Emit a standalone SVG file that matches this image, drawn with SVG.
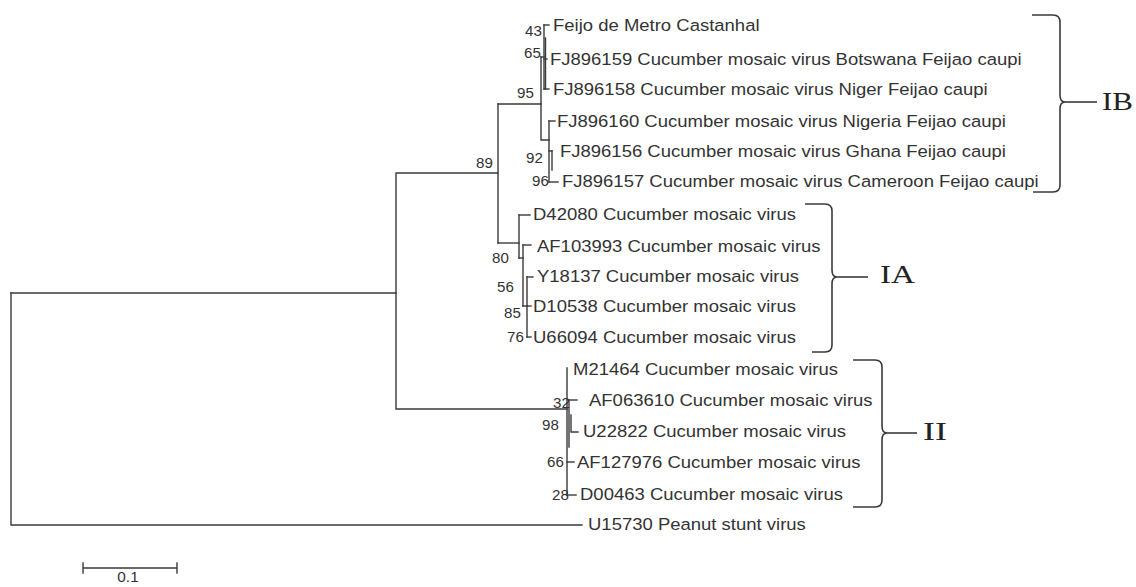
<svg xmlns="http://www.w3.org/2000/svg" width="1136" height="587" viewBox="0 0 1136 587">
<style>
.br{stroke:#3a3a3a;stroke-width:1.4;fill:none;stroke-linecap:square}
.bk{stroke:#3a3a3a;stroke-width:1.6;fill:none}
.leaf{font-family:"Liberation Sans",Arial,sans-serif;font-size:16.5px;fill:#333}
.bs{font-family:"Liberation Sans",Arial,sans-serif;font-size:14px;fill:#333}
.rn{font-family:"Liberation Serif","Times New Roman",serif;font-size:25px;fill:#222}
</style>
<rect width="1136" height="587" fill="#fff"/>
<g id="connectors">
<path class="br" d="M11,293 V525 H582"/>
<path class="br" d="M11,293 H396 V409 H567"/>
<path class="br" d="M396,293 V173 H498"/>
<path class="br" d="M498,104 V243"/>
<path class="br" d="M498,104 H541 V57"/>
<path class="br" d="M541,104 V140 H549"/>
<path class="br" d="M541,57 H544"/>
<path class="br" d="M544,25 V89"/>
<path class="br" d="M545.5,38 V89"/>
<path class="br" d="M544,25 H549"/>
<path class="br" d="M544,59 H547"/>
<path class="br" d="M544,89 H549"/>
<path class="br" d="M549,121 V182"/>
<path class="br" d="M549,121 H555"/>
<path class="br" d="M549,151 H552"/>
<path class="br" d="M552,151 V170"/>
<path class="br" d="M549,182 H558"/>
<path class="br" d="M498,243 H519"/>
<path class="br" d="M519,215 V258"/>
<path class="br" d="M519,215 H530"/>
<path class="br" d="M519,258 H523"/>
<path class="br" d="M523,245 V306"/>
<path class="br" d="M523,245 H531"/>
<path class="br" d="M523,306 H527"/>
<path class="br" d="M527,277 V337"/>
<path class="br" d="M527,277 H533"/>
<path class="br" d="M527,306 H531"/>
<path class="br" d="M527,337 H531"/>
<path class="br" d="M567,368 V495"/>
<path class="br" d="M569,400 V447"/>
<path class="br" d="M569,400 H577"/>
<path class="br" d="M571,415 V432 H578"/>
<path class="br" d="M567,462 H574"/>
<path class="br" d="M567,495 H576"/>
</g>
<g id="bootstrap">
<text class="bs" transform="translate(525,36) scale(1.08,1)">43</text>
<text class="bs" transform="translate(524,58) scale(1.08,1)">65</text>
<text class="bs" transform="translate(517,98) scale(1.08,1)">95</text>
<text class="bs" transform="translate(526,163) scale(1.08,1)">92</text>
<text class="bs" transform="translate(532,186) scale(1.08,1)">96</text>
<text class="bs" transform="translate(476,168) scale(1.08,1)">89</text>
<text class="bs" transform="translate(492,263) scale(1.08,1)">80</text>
<text class="bs" transform="translate(497,292) scale(1.08,1)">56</text>
<text class="bs" transform="translate(504,318) scale(1.08,1)">85</text>
<text class="bs" transform="translate(507,342) scale(1.08,1)">76</text>
<text class="bs" transform="translate(553,408) scale(1.08,1)">32</text>
<text class="bs" transform="translate(542,430) scale(1.08,1)">98</text>
<text class="bs" transform="translate(547,467) scale(1.08,1)">66</text>
<text class="bs" transform="translate(552,500) scale(1.08,1)">28</text>
</g>
<g id="leaf-feijo"><text class="leaf" transform="translate(553,31) scale(1.121,1)">Feijo de Metro Castanhal</text></g>
<g id="leaf-FJ896159"><text class="leaf" transform="translate(550,65) scale(1.121,1)">FJ896159 Cucumber mosaic virus Botswana Feijao caupi</text></g>
<g id="leaf-FJ896158"><text class="leaf" transform="translate(553,95) scale(1.121,1)">FJ896158 Cucumber mosaic virus Niger Feijao caupi</text></g>
<g id="leaf-FJ896160"><text class="leaf" transform="translate(557,127) scale(1.121,1)">FJ896160 Cucumber mosaic virus Nigeria Feijao caupi</text></g>
<g id="leaf-FJ896156"><text class="leaf" transform="translate(560,157) scale(1.121,1)">FJ896156 Cucumber mosaic virus Ghana Feijao caupi</text></g>
<g id="leaf-FJ896157"><text class="leaf" transform="translate(562,187) scale(1.121,1)">FJ896157 Cucumber mosaic virus Cameroon Feijao caupi</text></g>
<g id="leaf-D42080"><text class="leaf" transform="translate(533,220) scale(1.121,1)">D42080 Cucumber mosaic virus</text></g>
<g id="leaf-AF103993"><text class="leaf" transform="translate(537,252) scale(1.121,1)">AF103993 Cucumber mosaic virus</text></g>
<g id="leaf-Y18137"><text class="leaf" transform="translate(537,282) scale(1.121,1)">Y18137 Cucumber mosaic virus</text></g>
<g id="leaf-D10538"><text class="leaf" transform="translate(533,312) scale(1.121,1)">D10538 Cucumber mosaic virus</text></g>
<g id="leaf-U66094"><text class="leaf" transform="translate(533,343) scale(1.121,1)">U66094 Cucumber mosaic virus</text></g>
<g id="leaf-M21464"><text class="leaf" transform="translate(573,375) scale(1.121,1)">M21464 Cucumber mosaic virus</text></g>
<g id="leaf-AF063610"><text class="leaf" transform="translate(589,406) scale(1.121,1)">AF063610 Cucumber mosaic virus</text></g>
<g id="leaf-U22822"><text class="leaf" transform="translate(583,437) scale(1.121,1)">U22822 Cucumber mosaic virus</text></g>
<g id="leaf-AF127976"><text class="leaf" transform="translate(577,468) scale(1.121,1)">AF127976 Cucumber mosaic virus</text></g>
<g id="leaf-D00463"><text class="leaf" transform="translate(580,500) scale(1.121,1)">D00463 Cucumber mosaic virus</text></g>
<g id="leaf-U15730"><text class="leaf" transform="translate(588,530) scale(1.121,1)">U15730 Peanut stunt virus</text></g>
<g id="bracket-IB">
<path class="bk" d="M1032,15 H1053 Q1060,15 1060,22 V95 Q1060,102 1065,102 Q1060,102 1060,109 V185 Q1060,192 1053,192 H1033"/>
<path class="bk" d="M1065,102 H1097"/>
<text class="rn" x="1102" y="110" textLength="31" lengthAdjust="spacingAndGlyphs">IB</text>
</g>
<g id="bracket-IA">
<path class="bk" d="M805,204 H825 Q832,204 832,211 V270 Q832,277 837,277 Q832,277 832,284 V345 Q832,352 825,352 H812"/>
<path class="bk" d="M837,277 H868"/>
<text class="rn" x="880" y="283" textLength="35" lengthAdjust="spacingAndGlyphs">IA</text>
</g>
<g id="bracket-II">
<path class="bk" d="M853,360 H875 Q882,360 882,367 V426 Q882,433 887,433 Q882,433 882,440 V500 Q882,507 875,507 H853"/>
<path class="bk" d="M887,433 H917"/>
<text class="rn" x="923" y="440" textLength="24" lengthAdjust="spacingAndGlyphs">II</text>
</g>
<g id="scalebar">
<path class="br" d="M83,568 H177 M83,563 V573 M177,563 V573"/>
<text class="bs" transform="translate(128,582) scale(1.1,1)" text-anchor="middle">0.1</text>
</g>
</svg>
